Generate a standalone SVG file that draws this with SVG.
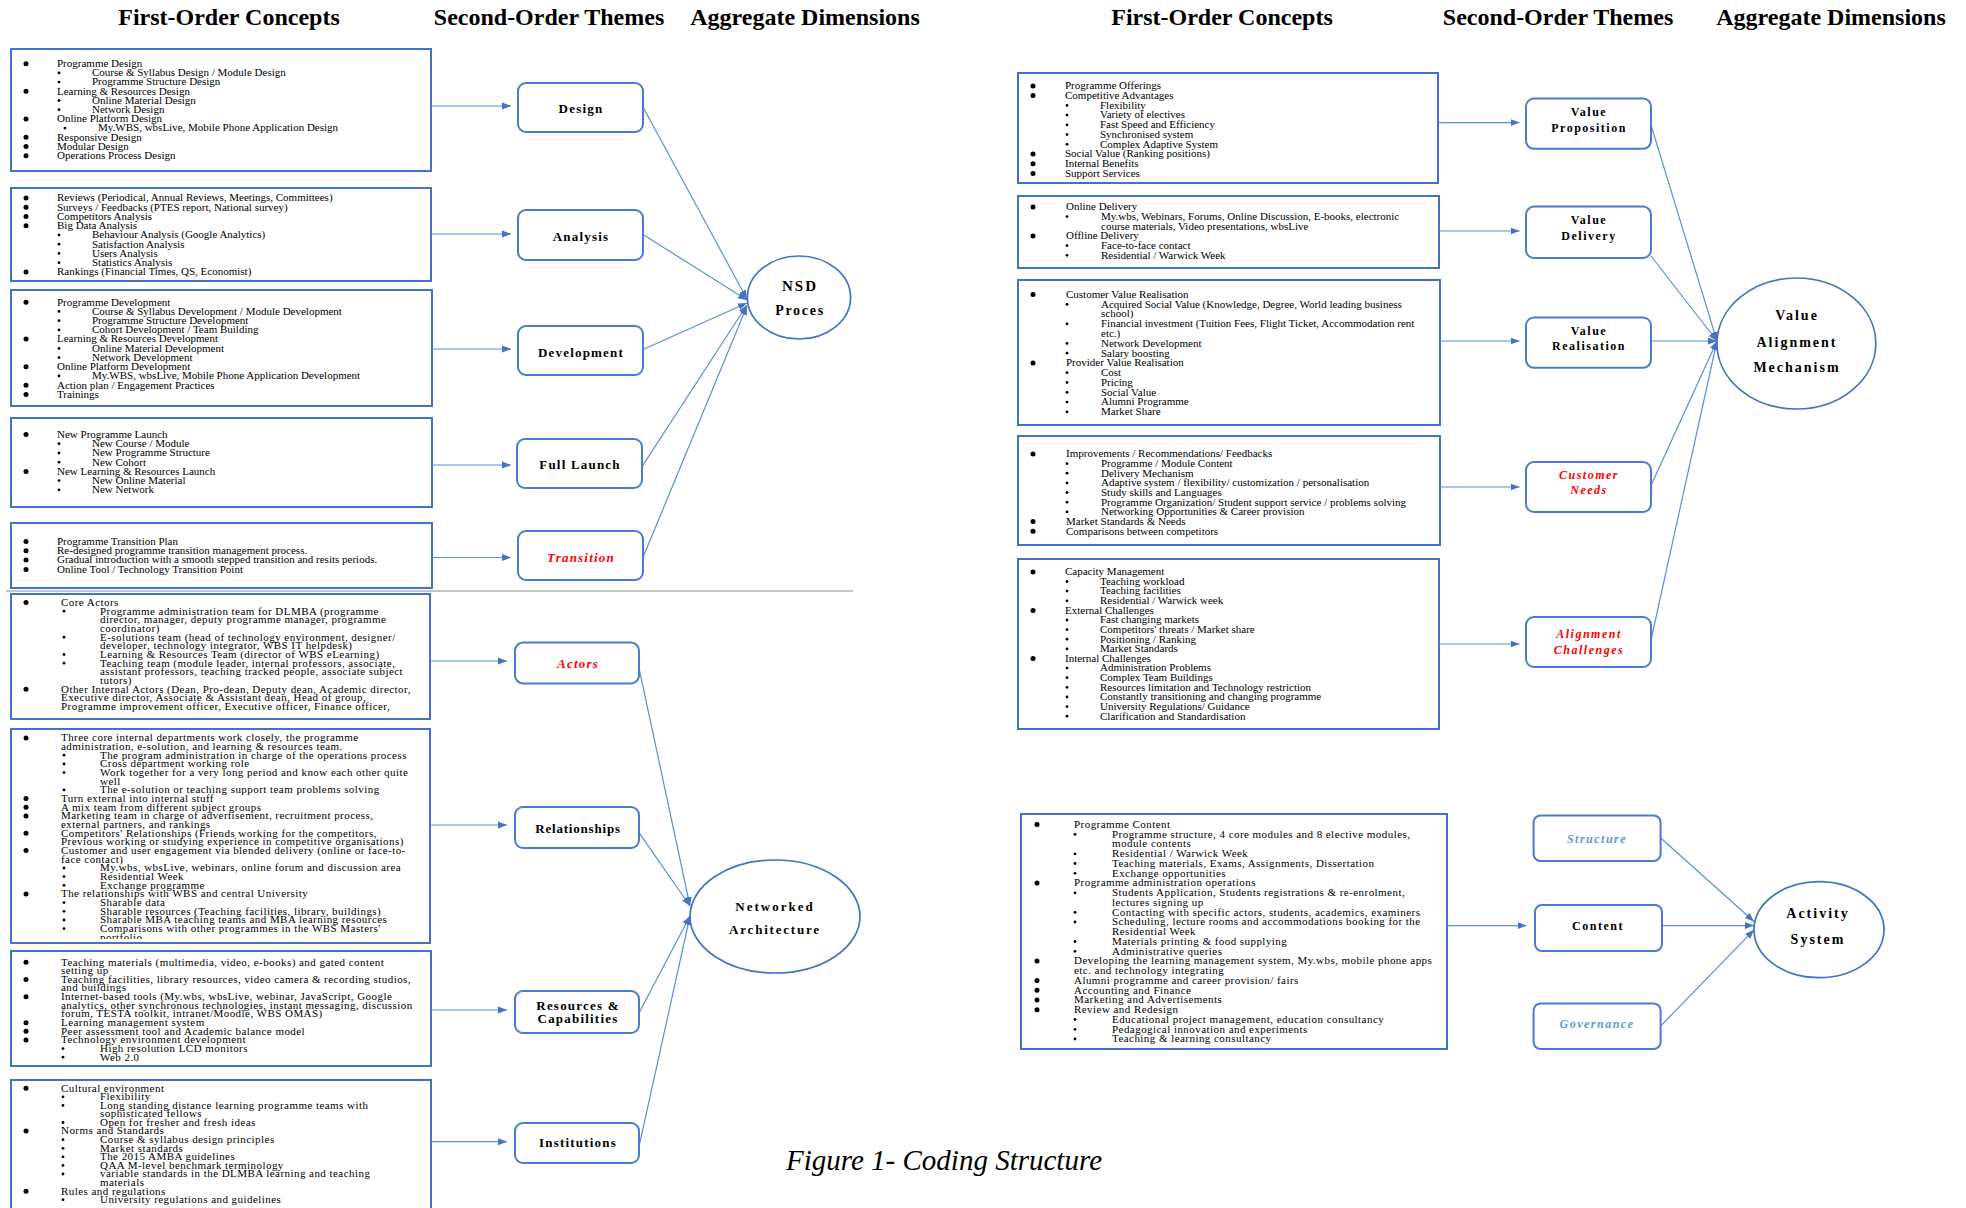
<svg xmlns="http://www.w3.org/2000/svg" xmlns:xlink="http://www.w3.org/1999/xlink" width="1966" height="1208" viewBox="0 0 1966 1208">
<style>
.bx{fill:#fff;stroke:#4472c4;stroke-width:2}
.th{fill:#fff;stroke:#4a7bd0;stroke-width:2}
.el{fill:#fff;stroke:#4472c4;stroke-width:1.7}
.cn{stroke:#5b8fd9;stroke-width:1.2;fill:none}
.ar{marker-end:url(#ah)}
text{font-family:"Liberation Serif","Times New Roman",serif;fill:#000}
.t{font-size:11px}
.ts{font-size:11px;letter-spacing:0.45px}
.hd{font-size:24px;font-weight:bold;text-anchor:middle}
.lb{font-size:13px;font-weight:bold;letter-spacing:1.2px;text-anchor:middle}
.lr{font-size:12px;font-weight:bold;letter-spacing:1.5px;text-anchor:middle}
.eg{font-size:14px;font-weight:bold;letter-spacing:2px;text-anchor:middle}
.red{fill:#ff0000;font-style:italic}
.lbl{fill:#5b9bd5;font-style:italic}
.cap{font-size:29px;font-style:italic}
</style>
<defs>
<marker id="ah" markerUnits="userSpaceOnUse" markerWidth="9" markerHeight="8" refX="9" refY="4" orient="auto"><path d="M0,0.5 L9,4 L0,7.5 z" fill="#4472c4"/></marker>
<circle id="b1" r="2.5" fill="#000"/>
<circle id="b2" r="1.4" fill="#000"/>
<clipPath id="clipL7"><rect x="11" y="729" width="419" height="210"/></clipPath>
</defs>
<rect width="1966" height="1208" fill="#fff"/>

<g id="headers">
<text class="hd" x="229" y="25">First-Order Concepts</text>
<text class="hd" x="549" y="25">Second-Order Themes</text>
<text class="hd" x="805" y="25">Aggregate Dimensions</text>
<text class="hd" x="1222" y="25">First-Order Concepts</text>
<text class="hd" x="1558" y="25">Second-Order Themes</text>
<text class="hd" x="1831" y="25">Aggregate Dimensions</text>
</g>

<line x1="6" y1="591" x2="853" y2="591" stroke="#8a8a8a" stroke-width="1"/>

<g id="box-design-concepts">
<rect class="bx" x="11" y="49" width="420" height="122"/>
<use href="#b1" x="26" y="63.7"/><text class="t" x="57" y="67">Programme Design</text>
<use href="#b2" x="59" y="72.9"/><text class="t" x="92" y="76.2">Course &amp; Syllabus Design / Module Design</text>
<use href="#b2" x="59" y="82.1"/><text class="t" x="92" y="85.4">Programme Structure Design</text>
<use href="#b1" x="26" y="91.3"/><text class="t" x="57" y="94.6">Learning &amp; Resources Design</text>
<use href="#b2" x="59" y="100.5"/><text class="t" x="92" y="103.8">Online Material Design</text>
<use href="#b2" x="59" y="109.7"/><text class="t" x="92" y="113">Network Design</text>
<use href="#b1" x="26" y="118.9"/><text class="t" x="57" y="122.2">Online Platform Design</text>
<use href="#b2" x="65" y="128.1"/><text class="t" x="98" y="131.4">My.WBS, wbsLive, Mobile Phone Application Design</text>
<use href="#b1" x="26" y="137.3"/><text class="t" x="57" y="140.6">Responsive Design</text>
<use href="#b1" x="26" y="146.5"/><text class="t" x="57" y="149.8">Modular Design</text>
<use href="#b1" x="26" y="155.7"/><text class="t" x="57" y="159">Operations Process Design</text>
</g>

<g id="box-analysis-concepts">
<rect class="bx" x="11" y="188" width="420" height="93"/>
<use href="#b1" x="26" y="197.9"/><text class="t" x="57" y="201.2">Reviews (Periodical, Annual Reviews, Meetings, Committees)</text>
<use href="#b1" x="26" y="207.2"/><text class="t" x="57" y="210.5">Surveys / Feedbacks (PTES report, National survey)</text>
<use href="#b1" x="26" y="216.4"/><text class="t" x="57" y="219.7">Competitors Analysis</text>
<use href="#b1" x="26" y="225.7"/><text class="t" x="57" y="229">Big Data Analysis</text>
<use href="#b2" x="59" y="234.9"/><text class="t" x="92" y="238.2">Behaviour Analysis (Google Analytics)</text>
<use href="#b2" x="59" y="244.2"/><text class="t" x="92" y="247.5">Satisfaction Analysis</text>
<use href="#b2" x="59" y="253.4"/><text class="t" x="92" y="256.7">Users Analysis</text>
<use href="#b2" x="59" y="262.7"/><text class="t" x="92" y="266">Statistics Analysis</text>
<use href="#b1" x="26" y="271.9"/><text class="t" x="57" y="275.2">Rankings (Financial Times, QS, Economist)</text>
</g>

<g id="box-development-concepts">
<rect class="bx" x="11" y="290" width="421" height="116"/>
<use href="#b1" x="26" y="302.2"/><text class="t" x="57" y="305.5">Programme Development</text>
<use href="#b2" x="59" y="311.4"/><text class="t" x="92" y="314.7">Course &amp; Syllabus Development / Module Development</text>
<use href="#b2" x="59" y="320.7"/><text class="t" x="92" y="324">Programme Structure Development</text>
<use href="#b2" x="59" y="329.9"/><text class="t" x="92" y="333.2">Cohort Development / Team Building</text>
<use href="#b1" x="26" y="339.1"/><text class="t" x="57" y="342.4">Learning &amp; Resources Development</text>
<use href="#b2" x="59" y="348.4"/><text class="t" x="92" y="351.7">Online Material Development</text>
<use href="#b2" x="59" y="357.6"/><text class="t" x="92" y="360.9">Network Development</text>
<use href="#b1" x="26" y="366.8"/><text class="t" x="57" y="370.1">Online Platform Development</text>
<use href="#b2" x="59" y="376"/><text class="t" x="92" y="379.3">My.WBS, wbsLive, Mobile Phone Application Development</text>
<use href="#b1" x="26" y="385.3"/><text class="t" x="57" y="388.6">Action plan / Engagement Practices</text>
<use href="#b1" x="26" y="394.5"/><text class="t" x="57" y="397.8">Trainings</text>
</g>

<g id="box-launch-concepts">
<rect class="bx" x="11" y="418" width="421" height="89"/>
<use href="#b1" x="26" y="434.5"/><text class="t" x="57" y="437.8">New Programme Launch</text>
<use href="#b2" x="59" y="443.7"/><text class="t" x="92" y="447">New Course / Module</text>
<use href="#b2" x="59" y="453"/><text class="t" x="92" y="456.3">New Programme Structure</text>
<use href="#b2" x="59" y="462.2"/><text class="t" x="92" y="465.5">New Cohort</text>
<use href="#b1" x="26" y="471.4"/><text class="t" x="57" y="474.7">New Learning &amp; Resources Launch</text>
<use href="#b2" x="59" y="480.6"/><text class="t" x="92" y="483.9">New Online Material</text>
<use href="#b2" x="59" y="489.9"/><text class="t" x="92" y="493.2">New Network</text>
</g>

<g id="box-transition-concepts">
<rect class="bx" x="11" y="523" width="421" height="65"/>
<use href="#b1" x="26" y="541.5"/><text class="t" x="57" y="544.8">Programme Transition Plan</text>
<use href="#b1" x="26" y="550.8"/><text class="t" x="57" y="554.1">Re-designed programme transition management process.</text>
<use href="#b1" x="26" y="560.1"/><text class="t" x="57" y="563.4">Gradual introduction with a smooth stepped transition and resits periods.</text>
<use href="#b1" x="26" y="569.4"/><text class="t" x="57" y="572.7">Online Tool / Technology Transition Point</text>
</g>

<g id="box-actors-concepts">
<rect class="bx" x="11" y="594" width="419" height="125"/>
<use href="#b1" x="26" y="602.5"/><text class="ts" x="61" y="605.8">Core Actors</text>
<use href="#b2" x="64" y="611.2"/><text class="ts" x="100" y="614.5">Programme administration team for DLMBA (programme</text>
<text class="ts" x="100" y="623.1">director, manager, deputy programme manager, programme</text>
<text class="ts" x="100" y="631.8">coordinator)</text>
<use href="#b2" x="64" y="637.2"/><text class="ts" x="100" y="640.5">E-solutions team (head of technology environment, designer/</text>
<text class="ts" x="100" y="649.2">developer, technology integrator, WBS IT helpdesk)</text>
<use href="#b2" x="64" y="654.5"/><text class="ts" x="100" y="657.8">Learning &amp; Resources Team (director of WBS eLearning)</text>
<use href="#b2" x="64" y="663.2"/><text class="ts" x="100" y="666.5">Teaching team (module leader, internal professors, associate,</text>
<text class="ts" x="100" y="675.2">assistant professors, teaching tracked people, associate subject</text>
<text class="ts" x="100" y="683.8">tutors)</text>
<use href="#b1" x="26" y="689.2"/><text class="ts" x="61" y="692.5">Other Internal Actors (Dean, Pro-dean, Deputy dean, Academic director,</text>
<text class="ts" x="61" y="701.2">Executive director, Associate &amp; Assistant dean, Head of group,</text>
<text class="ts" x="61" y="709.8">Programme improvement officer, Executive officer, Finance officer,</text>
</g>

<g id="box-relationships-concepts">
<rect class="bx" x="11" y="729" width="419" height="214"/>
<g clip-path="url(#clipL7)">
<use href="#b1" x="26" y="737.9"/><text class="ts" x="61" y="741.2">Three core internal departments work closely, the programme</text>
<text class="ts" x="61" y="749.9">administration, e-solution, and learning &amp; resources team.</text>
<use href="#b2" x="64" y="755.2"/><text class="ts" x="100" y="758.5">The program administration in charge of the operations process</text>
<use href="#b2" x="64" y="763.9"/><text class="ts" x="100" y="767.2">Cross department working role</text>
<use href="#b2" x="64" y="772.6"/><text class="ts" x="100" y="775.9">Work together for a very long period and know each other quite</text>
<text class="ts" x="100" y="784.6">well</text>
<use href="#b2" x="64" y="789.9"/><text class="ts" x="100" y="793.2">The e-solution or teaching support team problems solving</text>
<use href="#b1" x="26" y="798.6"/><text class="ts" x="61" y="801.9">Turn external into internal stuff</text>
<use href="#b1" x="26" y="807.3"/><text class="ts" x="61" y="810.6">A mix team from different subject groups</text>
<use href="#b1" x="26" y="815.9"/><text class="ts" x="61" y="819.2">Marketing team in charge of advertisement, recruitment process,</text>
<text class="ts" x="61" y="827.9">external partners, and rankings</text>
<use href="#b1" x="26" y="833.3"/><text class="ts" x="61" y="836.6">Competitors' Relationships (Friends working for the competitors,</text>
<text class="ts" x="61" y="845.2">Previous working or studying experience in competitive organisations)</text>
<use href="#b1" x="26" y="850.6"/><text class="ts" x="61" y="853.9">Customer and user engagement via blended delivery (online or face-to-</text>
<text class="ts" x="61" y="862.6">face contact)</text>
<use href="#b2" x="64" y="868"/><text class="ts" x="100" y="871.3">My.wbs, wbsLive, webinars, online forum and discussion area</text>
<use href="#b2" x="64" y="876.6"/><text class="ts" x="100" y="879.9">Residential Week</text>
<use href="#b2" x="64" y="885.3"/><text class="ts" x="100" y="888.6">Exchange programme</text>
<use href="#b1" x="26" y="894"/><text class="ts" x="61" y="897.3">The relationships with WBS and central University</text>
<use href="#b2" x="64" y="902.6"/><text class="ts" x="100" y="905.9">Sharable data</text>
<use href="#b2" x="64" y="911.3"/><text class="ts" x="100" y="914.6">Sharable resources (Teaching facilities, library, buildings)</text>
<use href="#b2" x="64" y="920"/><text class="ts" x="100" y="923.3">Sharable MBA teaching teams and MBA learning resources</text>
<use href="#b2" x="64" y="928.6"/><text class="ts" x="100" y="931.9">Comparisons with other programmes in the WBS Masters'</text>
<text class="ts" x="100" y="940.6">portfolio</text>
</g>
</g>

<g id="box-resources-concepts">
<rect class="bx" x="11" y="951" width="420" height="115"/>
<use href="#b1" x="26" y="962.2"/><text class="ts" x="61" y="965.5">Teaching materials (multimedia, video, e-books) and gated content</text>
<text class="ts" x="61" y="974.1">setting up</text>
<use href="#b1" x="26" y="979.5"/><text class="ts" x="61" y="982.8">Teaching facilities, library resources, video camera &amp; recording studios,</text>
<text class="ts" x="61" y="991.4">and buildings</text>
<use href="#b1" x="26" y="996.8"/><text class="ts" x="61" y="1000.1">Internet-based tools (My.wbs, wbsLive, webinar, JavaScript, Google</text>
<text class="ts" x="61" y="1008.7">analytics, other synchronous technologies, instant messaging, discussion</text>
<text class="ts" x="61" y="1017.3">forum, TESTA toolkit, intranet/Moodle, WBS OMAS)</text>
<use href="#b1" x="26" y="1022.7"/><text class="ts" x="61" y="1026">Learning management system</text>
<use href="#b1" x="26" y="1031.3"/><text class="ts" x="61" y="1034.6">Peer assessment tool and Academic balance model</text>
<use href="#b1" x="26" y="1040"/><text class="ts" x="61" y="1043.3">Technology environment development</text>
<use href="#b2" x="63" y="1048.6"/><text class="ts" x="100" y="1051.9">High resolution LCD monitors</text>
<use href="#b2" x="63" y="1057.2"/><text class="ts" x="100" y="1060.5">Web 2.0</text>
</g>

<g id="box-institutions-concepts">
<rect class="bx" x="11" y="1080" width="420" height="140"/>
<use href="#b1" x="26" y="1088.2"/><text class="ts" x="61" y="1091.5">Cultural environment</text>
<use href="#b2" x="63" y="1096.8"/><text class="ts" x="100" y="1100.1">Flexibility</text>
<use href="#b2" x="63" y="1105.4"/><text class="ts" x="100" y="1108.7">Long standing distance learning programme teams with</text>
<text class="ts" x="100" y="1117.2">sophisticated fellows</text>
<use href="#b2" x="63" y="1122.5"/><text class="ts" x="100" y="1125.8">Open for fresher and fresh ideas</text>
<use href="#b1" x="26" y="1131.1"/><text class="ts" x="61" y="1134.4">Norms and Standards</text>
<use href="#b2" x="63" y="1139.7"/><text class="ts" x="100" y="1143">Course &amp; syllabus design principles</text>
<use href="#b2" x="63" y="1148.3"/><text class="ts" x="100" y="1151.6">Market standards</text>
<use href="#b2" x="63" y="1156.8"/><text class="ts" x="100" y="1160.1">The 2015 AMBA guidelines</text>
<use href="#b2" x="63" y="1165.4"/><text class="ts" x="100" y="1168.7">QAA M-level benchmark terminology</text>
<use href="#b2" x="63" y="1174"/><text class="ts" x="100" y="1177.3">variable standards in the DLMBA learning and teaching</text>
<text class="ts" x="100" y="1185.9">materials</text>
<use href="#b1" x="26" y="1191.2"/><text class="ts" x="61" y="1194.5">Rules and regulations</text>
<use href="#b2" x="63" y="1199.7"/><text class="ts" x="100" y="1203">University regulations and guidelines</text>
</g>

<g id="box-vp-concepts">
<rect class="bx" x="1018" y="73" width="420" height="110"/>
<use href="#b1" x="1033" y="85.9"/><text class="t" x="1065" y="89.2">Programme Offerings</text>
<use href="#b1" x="1033" y="95.6"/><text class="t" x="1065" y="98.9">Competitive Advantages</text>
<use href="#b2" x="1067" y="105.4"/><text class="t" x="1100" y="108.7">Flexibility</text>
<use href="#b2" x="1067" y="115.1"/><text class="t" x="1100" y="118.4">Variety of electives</text>
<use href="#b2" x="1067" y="124.8"/><text class="t" x="1100" y="128.1">Fast Speed and Efficiency</text>
<use href="#b2" x="1067" y="134.6"/><text class="t" x="1100" y="137.9">Synchronised system</text>
<use href="#b2" x="1067" y="144.3"/><text class="t" x="1100" y="147.6">Complex Adaptive System</text>
<use href="#b1" x="1033" y="154"/><text class="t" x="1065" y="157.3">Social Value (Ranking positions)</text>
<use href="#b1" x="1033" y="163.7"/><text class="t" x="1065" y="167">Internal Benefits</text>
<use href="#b1" x="1033" y="173.5"/><text class="t" x="1065" y="176.8">Support Services</text>
</g>

<g id="box-vd-concepts">
<rect class="bx" x="1018" y="196" width="421" height="72"/>
<use href="#b1" x="1033" y="206.9"/><text class="t" x="1066" y="210.2">Online Delivery</text>
<use href="#b2" x="1067" y="216.6"/><text class="t" x="1101" y="219.9">My.wbs, Webinars, Forums, Online Discussion, E-books, electronic</text>
<text class="t" x="1101" y="229.5">course materials, Video presentations, wbsLive</text>
<use href="#b1" x="1033" y="235.9"/><text class="t" x="1066" y="239.2">Offline Delivery</text>
<use href="#b2" x="1067" y="245.6"/><text class="t" x="1101" y="248.9">Face-to-face contact</text>
<use href="#b2" x="1067" y="255.3"/><text class="t" x="1101" y="258.6">Residential / Warwick Week</text>
</g>

<g id="box-vr-concepts">
<rect class="bx" x="1018" y="280" width="422" height="145"/>
<use href="#b1" x="1033" y="294.5"/><text class="t" x="1066" y="297.8">Customer Value Realisation</text>
<use href="#b2" x="1067" y="304.3"/><text class="t" x="1101" y="307.6">Acquired Social Value (Knowledge, Degree, World leading business</text>
<text class="t" x="1101" y="317.4">school)</text>
<use href="#b2" x="1067" y="323.8"/><text class="t" x="1101" y="327.1">Financial investment (Tuition Fees, Flight Ticket, Accommodation rent</text>
<text class="t" x="1101" y="336.9">etc.)</text>
<use href="#b2" x="1067" y="343.4"/><text class="t" x="1101" y="346.7">Network Development</text>
<use href="#b2" x="1067" y="353.2"/><text class="t" x="1101" y="356.5">Salary boosting</text>
<use href="#b1" x="1033" y="363"/><text class="t" x="1066" y="366.3">Provider Value Realisation</text>
<use href="#b2" x="1067" y="372.7"/><text class="t" x="1101" y="376">Cost</text>
<use href="#b2" x="1067" y="382.5"/><text class="t" x="1101" y="385.8">Pricing</text>
<use href="#b2" x="1067" y="392.3"/><text class="t" x="1101" y="395.6">Social Value</text>
<use href="#b2" x="1067" y="402.1"/><text class="t" x="1101" y="405.4">Alumni Programme</text>
<use href="#b2" x="1067" y="411.9"/><text class="t" x="1101" y="415.2">Market Share</text>
</g>

<g id="box-cn-concepts">
<rect class="bx" x="1018" y="436" width="422" height="109"/>
<use href="#b1" x="1033" y="453.9"/><text class="t" x="1066" y="457.2">Improvements / Recommendations/ Feedbacks</text>
<use href="#b2" x="1067" y="463.6"/><text class="t" x="1101" y="466.9">Programme / Module Content</text>
<use href="#b2" x="1067" y="473.2"/><text class="t" x="1101" y="476.5">Delivery Mechanism</text>
<use href="#b2" x="1067" y="482.9"/><text class="t" x="1101" y="486.2">Adaptive system / flexibility/ customization / personalisation</text>
<use href="#b2" x="1067" y="492.5"/><text class="t" x="1101" y="495.8">Study skills and Languages</text>
<use href="#b2" x="1067" y="502.2"/><text class="t" x="1101" y="505.5">Programme Organization/ Student support service / problems solving</text>
<use href="#b2" x="1067" y="511.9"/><text class="t" x="1101" y="515.2">Networking Opportunities &amp; Career provision</text>
<use href="#b1" x="1033" y="521.5"/><text class="t" x="1066" y="524.8">Market Standards &amp; Needs</text>
<use href="#b1" x="1033" y="531.2"/><text class="t" x="1066" y="534.5">Comparisons between competitors</text>
</g>

<g id="box-ac-concepts">
<rect class="bx" x="1018" y="559" width="421" height="170"/>
<use href="#b1" x="1033" y="571.9"/><text class="t" x="1065" y="575.2">Capacity Management</text>
<use href="#b2" x="1067" y="581.5"/><text class="t" x="1100" y="584.8">Teaching workload</text>
<use href="#b2" x="1067" y="591.1"/><text class="t" x="1100" y="594.4">Teaching facilities</text>
<use href="#b2" x="1067" y="600.8"/><text class="t" x="1100" y="604.1">Residential / Warwick week</text>
<use href="#b1" x="1033" y="610.4"/><text class="t" x="1065" y="613.7">External Challenges</text>
<use href="#b2" x="1067" y="620"/><text class="t" x="1100" y="623.3">Fast changing markets</text>
<use href="#b2" x="1067" y="629.6"/><text class="t" x="1100" y="632.9">Competitors' threats / Market share</text>
<use href="#b2" x="1067" y="639.2"/><text class="t" x="1100" y="642.5">Positioning / Ranking</text>
<use href="#b2" x="1067" y="648.9"/><text class="t" x="1100" y="652.2">Market Standards</text>
<use href="#b1" x="1033" y="658.5"/><text class="t" x="1065" y="661.8">Internal Challenges</text>
<use href="#b2" x="1067" y="668.1"/><text class="t" x="1100" y="671.4">Administration Problems</text>
<use href="#b2" x="1067" y="677.7"/><text class="t" x="1100" y="681">Complex Team Buildings</text>
<use href="#b2" x="1067" y="687.3"/><text class="t" x="1100" y="690.6">Resources limitation and Technology restriction</text>
<use href="#b2" x="1067" y="697"/><text class="t" x="1100" y="700.3">Constantly transitioning and changing programme</text>
<use href="#b2" x="1067" y="706.6"/><text class="t" x="1100" y="709.9">University Regulations/ Guidance</text>
<use href="#b2" x="1067" y="716.2"/><text class="t" x="1100" y="719.5">Clarification and Standardisation</text>
</g>

<g id="box-activity-concepts">
<rect class="bx" x="1021" y="814" width="426" height="235"/>
<use href="#b1" x="1037" y="824.5"/><text class="ts" x="1074" y="827.8">Programme Content</text>
<use href="#b2" x="1075" y="834.3"/><text class="ts" x="1112" y="837.6">Programme structure, 4 core modules and 8 elective modules,</text>
<text class="ts" x="1112" y="847.3">module contents</text>
<use href="#b2" x="1075" y="853.8"/><text class="ts" x="1112" y="857.1">Residential / Warwick Week</text>
<use href="#b2" x="1075" y="863.5"/><text class="ts" x="1112" y="866.8">Teaching materials, Exams, Assignments, Dissertation</text>
<use href="#b2" x="1075" y="873.3"/><text class="ts" x="1112" y="876.6">Exchange opportunities</text>
<use href="#b1" x="1037" y="883"/><text class="ts" x="1074" y="886.3">Programme administration operations</text>
<use href="#b2" x="1075" y="892.8"/><text class="ts" x="1112" y="896.1">Students Application, Students registrations &amp; re-enrolment,</text>
<text class="ts" x="1112" y="905.8">lectures signing up</text>
<use href="#b2" x="1075" y="912.3"/><text class="ts" x="1112" y="915.6">Contacting with specific actors, students, academics, examiners</text>
<use href="#b2" x="1075" y="922"/><text class="ts" x="1112" y="925.3">Scheduling, lecture rooms and accommodations booking for the</text>
<text class="ts" x="1112" y="935.1">Residential Week</text>
<use href="#b2" x="1075" y="941.5"/><text class="ts" x="1112" y="944.8">Materials printing &amp; food supplying</text>
<use href="#b2" x="1075" y="951.3"/><text class="ts" x="1112" y="954.6">Administrative queries</text>
<use href="#b1" x="1037" y="961"/><text class="ts" x="1074" y="964.3">Developing the learning management system, My.wbs, mobile phone apps</text>
<text class="ts" x="1074" y="974.1">etc. and technology integrating</text>
<use href="#b1" x="1037" y="980.5"/><text class="ts" x="1074" y="983.8">Alumni programme and career provision/ fairs</text>
<use href="#b1" x="1037" y="990.3"/><text class="ts" x="1074" y="993.6">Accounting and Finance</text>
<use href="#b1" x="1037" y="1000"/><text class="ts" x="1074" y="1003.3">Marketing and Advertisements</text>
<use href="#b1" x="1037" y="1009.8"/><text class="ts" x="1074" y="1013.1">Review and Redesign</text>
<use href="#b2" x="1075" y="1019.5"/><text class="ts" x="1112" y="1022.8">Educational project management, education consultancy</text>
<use href="#b2" x="1075" y="1029.3"/><text class="ts" x="1112" y="1032.6">Pedagogical innovation and experiments</text>
<use href="#b2" x="1075" y="1039"/><text class="ts" x="1112" y="1042.3">Teaching &amp; learning consultancy</text>
</g>

<g id="connectors">
<line class="cn ar" x1="431" y1="106" x2="511" y2="106"/>
<line class="cn ar" x1="431" y1="234" x2="511" y2="234"/>
<line class="cn ar" x1="432" y1="349" x2="511" y2="349"/>
<line class="cn ar" x1="432" y1="465" x2="511" y2="465"/>
<line class="cn ar" x1="432" y1="557.5" x2="511" y2="557.5"/>
<line class="cn ar" x1="643" y1="107" x2="747" y2="299"/>
<line class="cn ar" x1="643" y1="234.5" x2="747" y2="300"/>
<line class="cn ar" x1="643" y1="349.5" x2="747" y2="303"/>
<line class="cn ar" x1="642" y1="466.6" x2="747" y2="305"/>
<line class="cn ar" x1="643" y1="557.5" x2="747" y2="306"/>
<line class="cn ar" x1="430" y1="661" x2="507" y2="661"/>
<line class="cn ar" x1="430" y1="825" x2="507" y2="825"/>
<line class="cn ar" x1="431" y1="1010" x2="507" y2="1010"/>
<line class="cn ar" x1="431" y1="1141.7" x2="507" y2="1141.7"/>
<line class="cn ar" x1="639" y1="668" x2="690" y2="906"/>
<line class="cn ar" x1="639" y1="832.6" x2="690" y2="906"/>
<line class="cn ar" x1="639" y1="1013" x2="690" y2="916"/>
<line class="cn ar" x1="639" y1="1146.7" x2="690" y2="916"/>
<line class="cn ar" x1="1438" y1="122.6" x2="1519.5" y2="122.6"/>
<line class="cn ar" x1="1439" y1="231" x2="1519.5" y2="231"/>
<line class="cn ar" x1="1440" y1="341" x2="1519.5" y2="341"/>
<line class="cn ar" x1="1440" y1="487" x2="1519.5" y2="487"/>
<line class="cn ar" x1="1439" y1="644" x2="1519.5" y2="644"/>
<line class="cn ar" x1="1651" y1="125" x2="1717" y2="341"/>
<line class="cn ar" x1="1651" y1="256" x2="1717" y2="341"/>
<line class="cn ar" x1="1651" y1="341" x2="1717" y2="341"/>
<line class="cn ar" x1="1651" y1="485.5" x2="1717" y2="341"/>
<line class="cn ar" x1="1651" y1="640" x2="1717" y2="341"/>
<line class="cn ar" x1="1447" y1="925.6" x2="1526.5" y2="925.6"/>
<line class="cn ar" x1="1660.7" y1="838" x2="1754" y2="921.5"/>
<line class="cn ar" x1="1662" y1="925.6" x2="1754" y2="925.6"/>
<line class="cn ar" x1="1660.7" y1="1026" x2="1754" y2="929.8"/>
</g>

<g id="theme-design"><rect class="th" x="518" y="83" width="125" height="49" rx="8"/><text class="lb" x="581" y="112.5">Design</text></g>
<g id="theme-analysis"><rect class="th" x="518" y="210" width="125" height="50" rx="8"/><text class="lb" x="581" y="240.5">Analysis</text></g>
<g id="theme-development"><rect class="th" x="518" y="326" width="125" height="49" rx="8"/><text class="lb" x="581" y="356.5">Development</text></g>
<g id="theme-full-launch"><rect class="th" x="517" y="439" width="125" height="49" rx="8"/><text class="lb" x="580" y="469">Full Launch</text></g>
<g id="theme-transition"><rect class="th" x="518" y="531" width="125" height="49" rx="8"/><text class="lb red" x="581" y="562">Transition</text></g>

<g id="dim-nsd"><ellipse class="el" cx="799" cy="297.5" rx="51.6" ry="41.5"/><text class="eg" x="800" y="290.5" style="font-size:15px">NSD</text><text class="eg" x="800" y="315" style="letter-spacing:1.7px">Proces</text></g>

<g id="theme-actors"><rect class="th" x="515" y="642.6" width="124" height="40.8" rx="8"/><text class="lb red" x="578" y="667.5">Actors</text></g>
<g id="theme-relationships"><rect class="th" x="515" y="807" width="124" height="41" rx="8"/><text class="lb" x="578" y="832.5" style="letter-spacing:0.8px">Relationships</text></g>
<g id="theme-resources"><rect class="th" x="515" y="991" width="124" height="42" rx="8"/><text class="lb" x="578" y="1009.5">Resources &amp;</text><text class="lb" x="578" y="1023">Capabilities</text></g>
<g id="theme-institutions"><rect class="th" x="515" y="1123" width="124" height="40" rx="8"/><text class="lb" x="578" y="1147">Institutions</text></g>

<g id="dim-networked"><ellipse class="el" cx="775" cy="916.5" rx="85" ry="56.5"/><text class="eg" x="775" y="910.5" style="font-size:13px">Networked</text><text class="eg" x="775" y="933.5" style="font-size:13px;letter-spacing:1.8px">Architecture</text></g>

<g id="theme-vp"><rect class="th" x="1526" y="98.5" width="125" height="50.3" rx="8"/><text class="lr" x="1589" y="115.5">Value</text><text class="lr" x="1589" y="131.5">Proposition</text></g>
<g id="theme-vd"><rect class="th" x="1526" y="206.6" width="125" height="51.4" rx="8"/><text class="lr" x="1589" y="224">Value</text><text class="lr" x="1589" y="239.5">Delivery</text></g>
<g id="theme-vr"><rect class="th" x="1526" y="317.5" width="125" height="50.3" rx="8"/><text class="lr" x="1589" y="335">Value</text><text class="lr" x="1589" y="349.7">Realisation</text></g>
<g id="theme-cn"><rect class="th" x="1526" y="462" width="125" height="50" rx="8"/><text class="lr red" x="1589" y="479">Customer</text><text class="lr red" x="1589" y="494">Needs</text></g>
<g id="theme-ac"><rect class="th" x="1526" y="617" width="125" height="50" rx="8"/><text class="lr red" x="1589" y="638">Alignment</text><text class="lr red" x="1589" y="653.5">Challenges</text></g>

<g id="dim-vam"><ellipse class="el" cx="1796.4" cy="343.5" rx="79.4" ry="65.5"/><text class="eg" x="1797" y="320.4">Value</text><text class="eg" x="1797" y="346.6">Alignment</text><text class="eg" x="1797" y="372">Mechanism</text></g>

<g id="theme-structure"><rect class="th" x="1533.6" y="815.4" width="127" height="45.6" rx="7"/><text class="lr lbl" x="1597" y="843">Structure</text></g>
<g id="theme-content"><rect class="th" x="1535" y="905" width="127" height="46" rx="7"/><text class="lr" x="1598" y="929.6">Content</text></g>
<g id="theme-governance"><rect class="th" x="1533.6" y="1003.4" width="127" height="45.6" rx="7"/><text class="lr lbl" x="1597" y="1028">Governance</text></g>

<g id="dim-activity"><ellipse class="el" cx="1819" cy="929.7" rx="65" ry="48"/><text class="eg" x="1818" y="918">Activity</text><text class="eg" x="1818" y="943.7">System</text></g>

<text class="cap" x="786" y="1170">Figure 1- Coding Structure</text>
</svg>
